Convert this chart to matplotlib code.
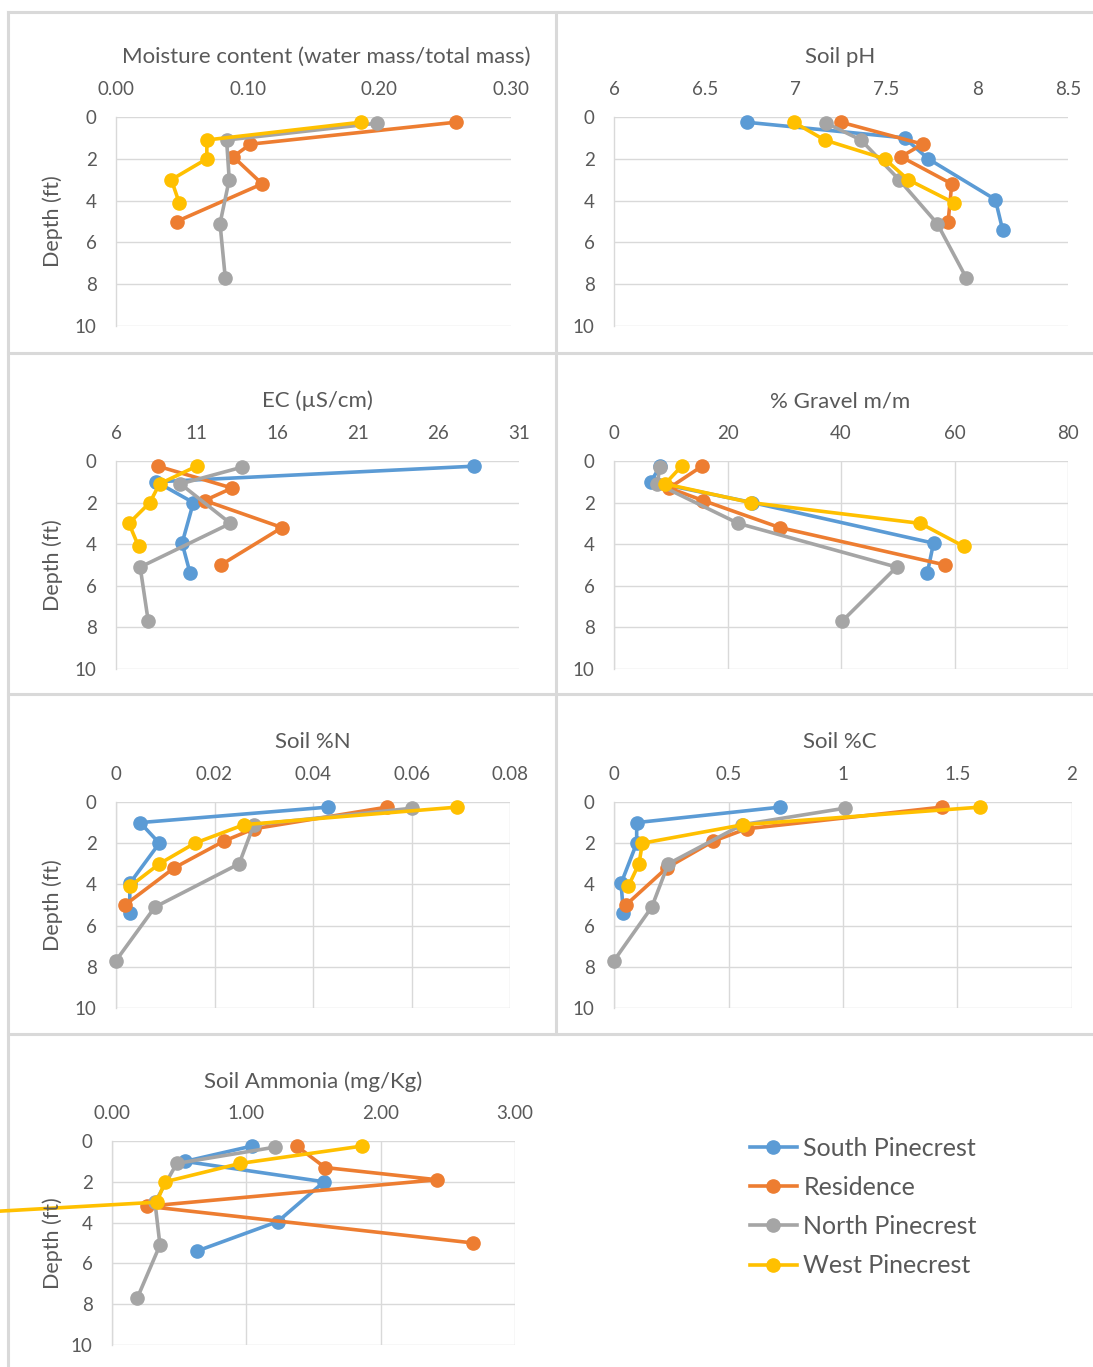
import matplotlib
matplotlib.use("Agg")
import matplotlib.pyplot as plt
from matplotlib.lines import Line2D

plt.rcParams['font.family'] = ['Lato', 'DejaVu Sans']

#site names and colours (Excel default palette)
sites = ["South Pinecrest", "Residence", "North Pinecrest", "West Pinecrest"]
colors = ["#5B9BD5", "#ED7D31", "#A5A5A5", "#FFC000"]

#sample depths (ft) for each site
depth_south = [0.25, 1.0, 2.0, 3.95, 5.4]
depth_res = [0.25, 1.3, 1.9, 3.2, 5.0]
depth_north = [0.3, 1.1, 3.0, 5.1, 7.7]
depth_west = [0.25, 1.1, 2.0, 3.0, 4.1]

#moisture content (no South Pinecrest data)
moist_south = None
moist_res = [0.258, 0.102, 0.089, 0.111, 0.046]
moist_north = [0.198, 0.084, 0.086, 0.079, 0.083]
moist_west = [0.186, 0.069, 0.069, 0.042, 0.048]

#soil pH
ph_south = [6.73, 7.60, 7.73, 8.10, 8.14]
ph_res = [7.25, 7.70, 7.58, 7.86, 7.84]
ph_north = [7.17, 7.36, 7.57, 7.78, 7.94]
ph_west = [6.99, 7.16, 7.49, 7.62, 7.87]

#EC (uS/cm)
ec_south = [28.2, 8.5, 10.8, 10.1, 10.6]
ec_res = [8.6, 13.2, 11.5, 16.3, 12.5]
ec_north = [13.8, 10.0, 13.1, 7.5, 8.0]
ec_west = [11.0, 8.7, 8.1, 6.8, 7.4]

#% gravel
gravel_south = [8.1, 6.5, 24.4, 56.3, 55.2]
gravel_res = [15.5, 9.7, 15.7, 29.2, 58.4]
gravel_north = [8.1, 7.6, 21.9, 49.8, 40.2]
gravel_west = [11.9, 9.0, 24.1, 54.0, 61.6]

#soil %N
n_south = [0.043, 0.0049, 0.0088, 0.0028, 0.0028]
n_res = [0.055, 0.028, 0.0219, 0.0118, 0.0018]
n_north = [0.0602, 0.028, 0.025, 0.0079, 0.0]
n_west = [0.0692, 0.026, 0.016, 0.0088, 0.0028]

#soil %C
c_south = [0.725, 0.099, 0.099, 0.031, 0.041]
c_res = [1.431, 0.579, 0.434, 0.230, 0.052]
c_north = [1.009, 0.560, 0.237, 0.165, 0.0]
c_west = [1.598, 0.565, 0.124, 0.109, 0.062]

#soil ammonia (mg/Kg) - last West value runs off the axis
nh3_south = [1.04, 0.543, 1.578, 1.234, 0.63]
nh3_res = [1.375, 1.586, 2.42, 0.258, 2.69]
nh3_north = [1.214, 0.482, 0.32, 0.357, 0.188]
nh3_west = [1.86, 0.953, 0.395, 0.333, -2.6]

depths = [depth_south, depth_res, depth_north, depth_west]

#tick labels for each panel
moist_ticks = ["0.00", "0.10", "0.20", "0.30"]
ph_ticks = ["6", "6.5", "7", "7.5", "8", "8.5"]
ec_ticks = ["6", "11", "16", "21", "26", "31"]
gravel_ticks = ["0", "20", "40", "60", "80"]
n_ticks = ["0", "0.02", "0.04", "0.06", "0.08"]
c_ticks = ["0", "0.5", "1", "1.5", "2"]
nh3_ticks = ["0.00", "1.00", "2.00", "3.00"]
depth_ticks = [0, 2, 4, 6, 8, 10]

W, H = 1093, 1367
fig = plt.figure(figsize=(W/100, H/100), dpi=100)

txt = "#595959"
grid_c = "#D9D9D9"

#panel definitions: (title, series, ticks, pixel box l,r,t,b, title xy, vertical grid)
panels = [
    ("Moisture content (water mass/total mass)", [moist_south, moist_res, moist_north, moist_west],
     moist_ticks, (116, 511, 117, 326), (326, 57), False),
    ("Soil pH", [ph_south, ph_res, ph_north, ph_west],
     ph_ticks, (614, 1068, 117, 326), (840, 57), False),
    ("EC (µS/cm)", [ec_south, ec_res, ec_north, ec_west],
     ec_ticks, (116, 519, 461, 669), (317, 401), False),
    ("% Gravel m/m", [gravel_south, gravel_res, gravel_north, gravel_west],
     gravel_ticks, (614, 1068, 461, 669), (840, 401), True),
    ("Soil %N", [n_south, n_res, n_north, n_west],
     n_ticks, (116, 510, 802, 1008), (313, 742), True),
    ("Soil %C", [c_south, c_res, c_north, c_west],
     c_ticks, (614, 1072, 802, 1008), (840, 742), True),
    ("Soil Ammonia (mg/Kg)", [nh3_south, nh3_res, nh3_north, nh3_west],
     nh3_ticks, (112, 515, 1141, 1345), (313, 1082), True),
]

for title, series, ticks, box, tpos, vgrid in panels:
    l, r, t, b = box
    ax = fig.add_axes([l/W, 1 - b/H, (r-l)/W, (b-t)/H])
    tick_vals = [float(v) for v in ticks]
    for vals, d, col in zip(series, depths, colors):
        if vals is None:
            continue
        ax.plot(vals, d, color=col, lw=2.6, marker="o", markersize=9.5,
                clip_on=False, zorder=3)
    ax.set_xlim(tick_vals[0], tick_vals[-1])
    ax.set_ylim(10, 0)
    ax.set_xticks(tick_vals)
    ax.set_xticklabels(ticks)
    ax.set_yticks(depth_ticks)
    ax.xaxis.tick_top()
    ax.tick_params(length=0, labelsize=13.5, labelcolor=txt)
    ax.tick_params(axis="x", pad=14)
    ax.tick_params(axis="y", pad=14)
    ax.grid(axis="y", color=grid_c, lw=1.0)
    if vgrid:
        ax.grid(axis="x", color=grid_c, lw=1.0)
    for s in ["top", "bottom", "right"]:
        ax.spines[s].set_visible(False)
    ax.spines["left"].set_color(grid_c)
    ax.spines["left"].set_linewidth(1.0)
    ax.set_axisbelow(True)
    fig.text(tpos[0]/W, 1 - tpos[1]/H, title, ha="center", va="center",
             fontsize=16, color=txt)
    if l < 300:
        fig.text(53/W, 1 - (t + b)/2/H, "Depth (ft)", rotation=90,
                 ha="center", va="center", fontsize=15.5, color=txt)

#panel border lines
border = dict(color="#D9D9D9", lw=2.2, transform=fig.transFigure, zorder=0)
fig.add_artist(Line2D([8/W, 1], [1 - 12/H, 1 - 12/H], **border))
fig.add_artist(Line2D([8/W, 8/W], [1 - 12/H, 0], **border))
fig.add_artist(Line2D([556/W, 556/W], [1 - 12/H, 1 - 1034/H], **border))
for yy in [353, 694, 1034]:
    fig.add_artist(Line2D([8/W, 1], [1 - yy/H, 1 - yy/H], **border))

#legend
handles = [Line2D([], [], color=c, lw=2.6, marker="o", markersize=9.5) for c in colors]
fig.legend(handles, sites, loc="upper left", bbox_to_anchor=(737/W, 1 - 1124/H),
           frameon=False, fontsize=18, handlelength=1.9, handletextpad=0.25,
           labelspacing=0.65, labelcolor=txt, borderpad=0)

fig.savefig("out.png", dpi=100)
